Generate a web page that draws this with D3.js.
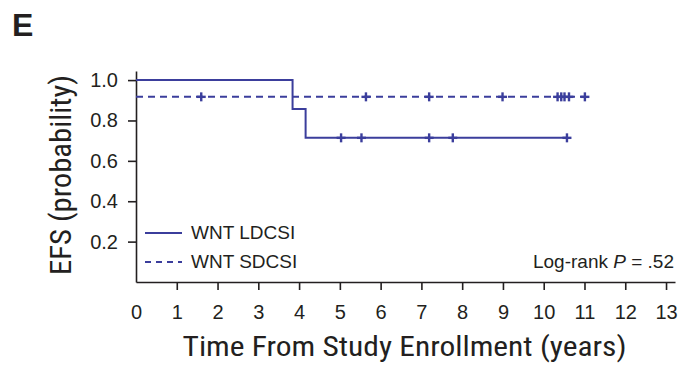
<!DOCTYPE html>
<html>
<head>
<meta charset="utf-8">
<script src="https://cdn.jsdelivr.net/npm/d3@7"></script>
<style>
  html, body { margin: 0; padding: 0; background: #fff; }
  text { fill: #231f20; }
</style>
</head>
<body>
<div id="chart"></div>
<script>
// data
var xTicks = [0, 1, 2, 3, 4, 5, 6, 7, 8, 9, 10, 11, 12, 13];
var yTicks = [0.2, 0.4, 0.6, 0.8, 1.0];

var ldcsiTimes = [0, 3.84, 4.16];
var ldcsiSurv = [1.0, 0.857, 0.714];
var ldcsiEnd = 10.57;
var ldcsiCensor = [5.03, 5.53, 7.19, 7.77, 10.57];

var sdcsiTimes = [0];
var sdcsiSurv = [0.917];
var sdcsiEnd = 11.01;
var sdcsiCensor = [1.6, 5.64, 7.19, 8.99, 10.34, 10.43, 10.51, 10.62, 11.01];

var color = "#3b3e9c";
var W = 679, H = 368;
var sans = "'Liberation Sans', Arial, sans-serif";
var narrow = "'Liberation Sans Narrow', 'Roboto Condensed', Roboto, sans-serif";

var svg = d3.select("#chart").append("svg")
    .attr("width", W).attr("height", H);

var xScale = d3.scaleLinear().domain([0, 13.22]).range([136, 675]);
var yScale = d3.scaleLinear().domain([0, 1.045]).range([282, 71]);

// panel letter
svg.append("text")
    .attr("x", 12).attr("y", 36)
    .style("font-family", sans)
    .style("font-weight", "bold")
    .style("font-size", "32px")
    .text("E");

// axes
var xAxis = svg.append("g")
    .attr("transform", "translate(0," + yScale(0) + ")")
    .call(d3.axisBottom(xScale).tickValues(xTicks).tickSize(8).tickPadding(15).tickSizeOuter(0));
xAxis.selectAll(".tick").filter(function(d) { return d === 0; }).select("line").remove();

var yAxis = svg.append("g")
    .attr("transform", "translate(" + xScale(0) + ",0)")
    .call(d3.axisLeft(yScale).tickValues(yTicks).tickFormat(d3.format(".1f")).tickSize(8).tickPadding(10).tickSizeOuter(0));

svg.selectAll(".domain, .tick line")
    .attr("stroke", "#231f20").attr("stroke-width", 1.6);
svg.selectAll(".tick text")
    .style("font-family", sans)
    .style("font-size", "20px")
    .attr("fill", "#231f20");

// axis titles
svg.append("text")
    .attr("x", 404.5).attr("y", 356)
    .attr("text-anchor", "middle")
    .attr("textLength", 444).attr("lengthAdjust", "spacingAndGlyphs")
    .style("font-family", narrow)
    .style("font-size", "28px")
    .text("Time From Study Enrollment (years)");

svg.append("text")
    .attr("transform", "translate(71,175) rotate(-90)")
    .attr("text-anchor", "middle")
    .attr("textLength", 200).attr("lengthAdjust", "spacingAndGlyphs")
    .style("font-family", narrow)
    .style("font-size", "29px")
    .text("EFS (probability)");

// curves
function stepPoints(times, surv, end) {
    var pts = times.map(function(t, i) { return [t, surv[i]]; });
    pts.push([end, surv[surv.length - 1]]);
    return pts;
}
function survAt(times, surv, t) {
    var s = surv[0];
    times.forEach(function(tt, i) { if (tt <= t) s = surv[i]; });
    return s;
}

var line = d3.line()
    .x(function(d) { return xScale(d[0]); })
    .y(function(d) { return yScale(d[1]); })
    .curve(d3.curveStepAfter);

var series = [
    {name: "WNT LDCSI", times: ldcsiTimes, surv: ldcsiSurv, end: ldcsiEnd, censor: ldcsiCensor, dash: null},
    {name: "WNT SDCSI", times: sdcsiTimes, surv: sdcsiSurv, end: sdcsiEnd, censor: sdcsiCensor, dash: "7,5"}
];

series.forEach(function(s) {
    svg.append("path")
        .datum(stepPoints(s.times, s.surv, s.end))
        .attr("d", line)
        .attr("fill", "none")
        .attr("stroke", color)
        .attr("stroke-width", 2)
        .attr("stroke-dasharray", s.dash);

    svg.selectAll(null)
        .data(s.censor)
        .enter()
        .append("line")
        .attr("x1", function(d) { return xScale(d); })
        .attr("x2", function(d) { return xScale(d); })
        .attr("y1", function(d) { return yScale(survAt(s.times, s.surv, d)) - 4.5; })
        .attr("y2", function(d) { return yScale(survAt(s.times, s.surv, d)) + 4.5; })
        .attr("stroke", color)
        .attr("stroke-width", 2.4);
    // short solid piece across each censor mark
    svg.selectAll(null)
        .data(s.censor)
        .enter()
        .append("line")
        .attr("x1", function(d) { return xScale(d) - 4.5; })
        .attr("x2", function(d) { return xScale(d) + 4.5; })
        .attr("y1", function(d) { return yScale(survAt(s.times, s.surv, d)); })
        .attr("y2", function(d) { return yScale(survAt(s.times, s.surv, d)); })
        .attr("stroke", color)
        .attr("stroke-width", 2.4);
});

// legend
var legend = svg.append("g");
series.forEach(function(s, i) {
    var y = 233 + i * 29;
    legend.append("line")
        .attr("x1", 145).attr("x2", 182)
        .attr("y1", y).attr("y2", y)
        .attr("stroke", color).attr("stroke-width", 1.8)
        .attr("stroke-dasharray", s.dash ? "6,5" : null);
    legend.append("text")
        .attr("x", 191).attr("y", y + 6)
        .style("font-family", sans)
        .style("font-size", "19px")
        .text(s.name);
});

// log-rank annotation
var lr = svg.append("text")
    .attr("x", 674).attr("y", 268)
    .attr("text-anchor", "end")
    .style("font-family", sans)
    .style("font-size", "19px");
lr.append("tspan").text("Log-rank ");
lr.append("tspan").style("font-style", "italic").text("P");
lr.append("tspan").text(" = .52");
</script>
</body>
</html>
